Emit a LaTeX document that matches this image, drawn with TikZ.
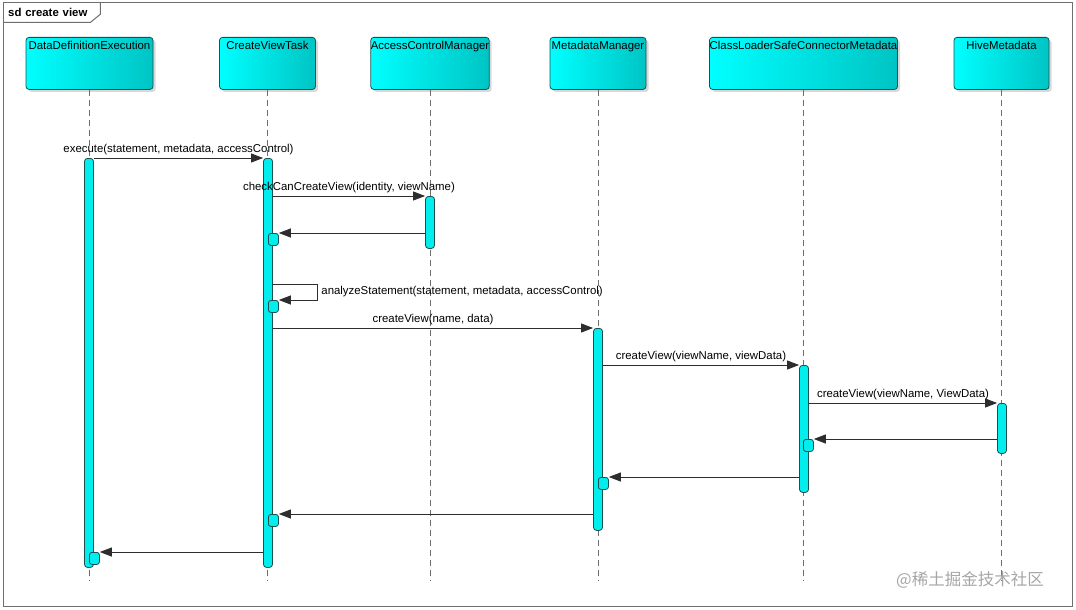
\documentclass[tikz,border=0pt]{standalone}
\usepackage{fontspec}
\setmainfont{Liberation Sans}
\newfontfamily\cjk{Noto Sans CJK SC}
\usetikzlibrary{arrows.meta,shadows}
\definecolor{cyanhi}{RGB}{0,255,255}
\definecolor{cyanlo}{RGB}{0,196,196}
\definecolor{tealedge}{RGB}{30,80,80}
\definecolor{barfill}{RGB}{0,238,238}
\definecolor{framegray}{RGB}{110,110,110}
\definecolor{msggray}{RGB}{45,45,45}

\begin{document}
\begin{tikzpicture}[x=1pt,y=-1pt,
 head/.style={draw=tealedge,left color=cyanhi,right color=cyanlo,rounded corners=3pt,
 line width=.8pt,anchor=north,inner xsep=0pt,inner ysep=3pt,text height=9pt,text depth=37pt,
 font=\fontsize{11.4}{13}\selectfont,drop shadow={shadow xshift=2.5pt,shadow yshift=-2.5pt,fill=black!30}},
 bar/.style={draw=tealedge,fill=barfill,rounded corners=3pt,line width=.8pt,
 minimum width=9pt,inner sep=0pt,anchor=north},
 retbox/.style={draw=tealedge,fill=barfill,rounded corners=2.5pt,line width=.8pt,
 minimum width=10pt,minimum height=12pt,inner sep=0pt,anchor=north west},
 lifeline/.style={draw=framegray,line width=.9pt,dash pattern=on 6pt off 4pt},
 msg/.style={-{Triangle[length=12pt,width=9pt]},line width=.9pt,draw=msggray},
 lbl/.style={above,inner sep=2.5pt,font=\fontsize{11.4}{13}\selectfont}
]
\useasboundingbox (0,0) rectangle (1076,610);
% frame
\node[draw=framegray,line width=1.4pt,minimum width=1069pt,minimum height=604pt,
 anchor=north west,inner sep=0pt] (frame) at (3,2) {};
\node[anchor=north west,minimum height=20pt,inner xsep=5pt,inner ysep=0pt,text width=87pt,
 font=\bfseries\fontsize{11.4}{13}\selectfont] (title) at (3,2) {sd create view};
\draw[draw=framegray,line width=1pt] (title.south west) -- ([xshift=-10pt]title.south east)
 -- ([yshift=-2pt]title.east) -- (title.north east);
% lifeline heads
\node[head,minimum width=127pt] (dde) at (89.5,37) {DataDefinitionExecution};
\node[head,minimum width=96pt] (cvt) at (267.5,37) {CreateViewTask};
\node[head,minimum width=118pt] (acm) at (430,37) {AccessControlManager};
\node[head,minimum width=96pt] (mm) at (598,37) {MetadataManager};
\node[head,minimum width=188pt] (clm) at (803.5,37) {ClassLoaderSafeConnectorMetadata};
\node[head,minimum width=95pt] (hm) at (1001.5,37) {HiveMetadata};
\coordinate (end) at (0,581);
\foreach \h in {dde,cvt,acm,mm,clm,hm}
 \draw[lifeline] (\h.south) -- (\h.south |- end);
% activations
\node[bar,minimum height=409pt] (ddeA) at (89,158) {};
\node[bar,minimum height=409pt] (cvtA) at (268,158) {};
\node[bar,minimum height=52pt] (acmA) at (430,196) {};
\node[bar,minimum height=202pt] (mmA) at (598,328) {};
\node[bar,minimum height=127pt] (clmA) at (804,365) {};
\node[bar,minimum height=50pt] (hmA) at (1002,403) {};
% return boxes
\node[retbox] (r1) at (268,233) {};
\node[retbox] (r2) at (268,300) {};
\node[retbox] (r3) at (803,439) {};
\node[retbox] (r4) at (598,477) {};
\node[retbox] (r5) at (268,514) {};
\node[retbox] (r6) at (89,552) {};
% messages
\draw[msg] (ddeA.north east) -- node[lbl]{execute(statement, metadata, accessControl)} (cvtA.north west);
\draw[msg] (cvtA.east |- acmA.north) -- node[lbl]{checkCanCreateView(identity, viewName)} (acmA.north west);
\draw[msg] (acmA.west |- r1.north) -- (r1.north east);
\coordinate (self) at (317,284);
\draw[msg] (cvtA.east |- self) -- (self) |- node[pos=.25,right,inner sep=4pt,
 font=\fontsize{11.4}{13}\selectfont]{analyzeStatement(statement, metadata, accessControl)}
 (r2.north east);
\draw[msg] (cvtA.east |- mmA.north) -- node[lbl]{createView(name, data)} (mmA.north west);
\draw[msg] (mmA.east |- clmA.north) -- node[lbl]{createView(viewName, viewData)} (clmA.north west);
\draw[msg] (clmA.east |- hmA.north) -- node[lbl]{createView(viewName, ViewData)} (hmA.north west);
\draw[msg] (hmA.west |- r3.north) -- (r3.north east);
\draw[msg] (clmA.west |- r4.north) -- (r4.north east);
\draw[msg] (mmA.west |- r5.north) -- (r5.north east);
\draw[msg] (cvtA.west |- r6.north) -- (r6.north east);
% watermark
\node[anchor=west,inner sep=0pt,text=black!35,font=\cjk\fontsize{16.5}{18}\selectfont] (mark)
 at (896,580) {@稀土掘金技术社区};
\end{tikzpicture}
\end{document}
